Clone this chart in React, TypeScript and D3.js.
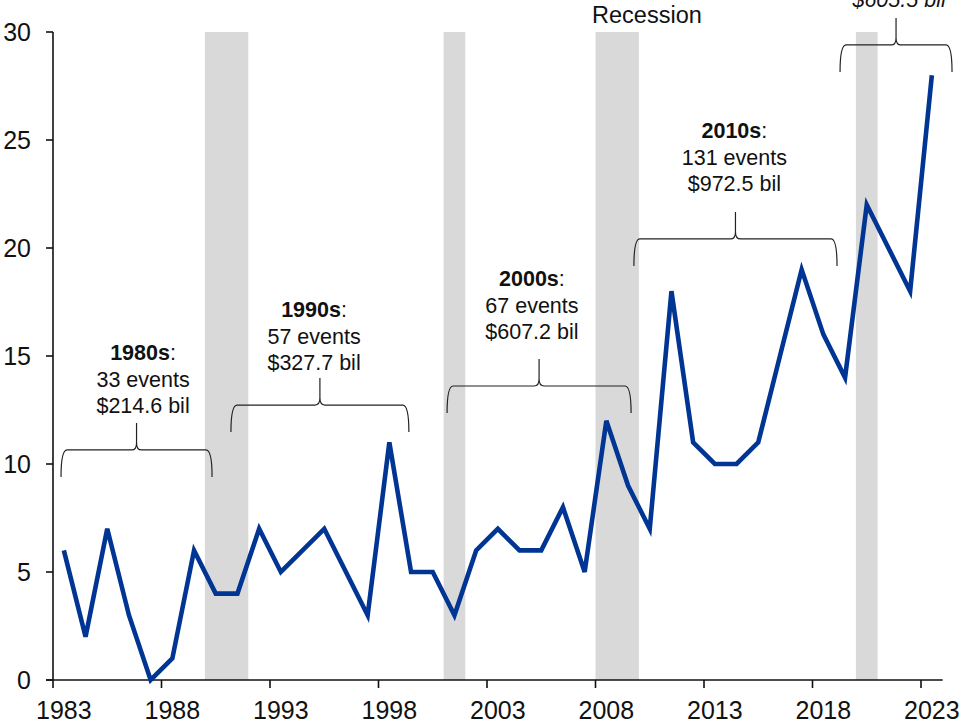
import React from "react";
import * as d3 from "d3";

// ---- data ----
const startYear = 1983;
const eventCounts = [
  6, 2, 7, 3, 0, 1, 6,
  4, 4, 7, 5, 6, 7, 5, 3, 11, 5,
  5, 3, 6, 7, 6, 6, 8, 5, 12, 9,
  7, 18, 11, 10, 10, 11, 15, 19, 16, 14,
  22, 20, 18, 28,
];
const xTickYears = [1983, 1988, 1993, 1998, 2003, 2008, 2013, 2018, 2023];
const yTicks = [0, 5, 10, 15, 20, 25, 30];
const recessionStart = [1990, 2001, 2008, 2020];
const recessionEnd = [1992, 2002, 2010, 2021];

const braceStart = [1983.37, 1991.2, 2001.16, 2009.77, 2019.27];
const braceEnd = [1990.33, 1999.4, 2009.64, 2019.13, 2024.43];
const braceLevel = [10.65, 12.73, 13.61, 20.42, 29.4];

const decadeNames = ["1980s", "1990s", "2000s", "2010s"];
const decadeEvents = ["33 events", "57 events", "67 events", "131 events"];
const decadeCost = ["$214.6 bil", "$327.7 bil", "$607.2 bil", "$972.5 bil"];
const labelX = [1987.15, 1995.03, 2005.07, 2014.4];
const labelY = [14.81, 16.8, 18.24, 25.09];

const partialCost = "$605.5 bil";
const partialX = 2021.99;
const partialY = 31.16;

const recessionLabel = "Recession";
const recessionLabelX = 2010.37;
const recessionLabelY = 30.42;

// ---- layout ----
const W = 962;
const H = 723;
const FONT = "'Liberation Sans', Arial, Helvetica, sans-serif";

export default function App() {
  const x = d3.scaleLinear().domain([1983, 2024]).range([53, 942.7]);
  const y = d3.scaleLinear().domain([0, 30]).range([680, 32]);

  const points = eventCounts.map((v, i) => [startYear + i + 0.5, v] as [number, number]);
  const line = d3
    .line<[number, number]>()
    .x((d) => x(d[0]))
    .y((d) => y(d[1]));

  const bracePath = (x1: number, x2: number, yH: number) => {
    const drop = 27;
    const rise = 27;
    const xm = (x1 + x2) / 2;
    const r = 6;
    const c = 7;
    return [
      `M${x1},${yH + drop}`,
      `Q${x1},${yH} ${x1 + r},${yH}`,
      `L${xm - 5},${yH}`,
      `Q${xm},${yH} ${xm},${yH - c}`,
      `L${xm},${yH - rise}`,
      `M${xm},${yH - c}`,
      `Q${xm},${yH} ${xm + 5},${yH}`,
      `L${x2 - r},${yH}`,
      `Q${x2},${yH} ${x2},${yH + drop}`,
    ].join(" ");
  };

  const lineGap = 26.5;

  return (
    <svg
      width={W}
      height={H}
      viewBox={`0 0 ${W} ${H}`}
      style={{ position: "absolute", left: 0, top: 0, background: "#fff" }}
      fontFamily={FONT}
    >
      {/* recession shading */}
      {recessionStart.map((s, i) => (
        <rect
          key={"rec" + i}
          x={x(s)}
          y={y(30)}
          width={x(recessionEnd[i]) - x(s)}
          height={y(0) - y(30)}
          fill="#d9d9d9"
        />
      ))}

      {/* axes */}
      <line x1={x(1983)} x2={x(1983)} y1={y(30)} y2={y(0)} stroke="#111" strokeWidth={1.6} />
      <line x1={46} x2={x(2024)} y1={y(0)} y2={y(0)} stroke="#111" strokeWidth={1.6} />
      {yTicks.map((t) => (
        <g key={"yt" + t}>
          <line x1={46} x2={x(1983)} y1={y(t)} y2={y(t)} stroke="#111" strokeWidth={1.6} />
          <text x={31} y={y(t)} dy="0.36em" textAnchor="end" fontSize={25} fill="#111">
            {t}
          </text>
        </g>
      ))}
      {xTickYears.map((t) => (
        <g key={"xt" + t}>
          <line x1={x(t)} x2={x(t)} y1={y(0)} y2={y(0) + 8} stroke="#111" strokeWidth={1.6} />
          <text x={x(t + 0.5)} y={719} textAnchor="middle" fontSize={25} fill="#111">
            {t}
          </text>
        </g>
      ))}

      {/* data line */}
      <path
        d={line(points) || ""}
        fill="none"
        stroke="#003594"
        strokeWidth={4.6}
        strokeLinejoin="miter"
        strokeLinecap="butt"
      />

      {/* braces */}
      {braceStart.map((s, i) => (
        <path
          key={"br" + i}
          d={bracePath(x(s), x(braceEnd[i]), y(braceLevel[i]))}
          fill="none"
          stroke="#222"
          strokeWidth={1.2}
        />
      ))}

      {/* decade labels */}
      {decadeNames.map((n, i) => {
        const cx = x(labelX[i]);
        const by = y(labelY[i]);
        return (
          <text key={"lab" + i} textAnchor="middle" fontSize={21.5} fill="#111">
            <tspan x={cx} y={by}>
              <tspan fontWeight="bold">{n}</tspan>:
            </tspan>
            <tspan x={cx} y={by + lineGap}>
              {decadeEvents[i]}
            </tspan>
            <tspan x={cx} y={by + 2 * lineGap}>
              {decadeCost[i]}
            </tspan>
          </text>
        );
      })}

      <text
        x={x(partialX)}
        y={y(partialY)}
        textAnchor="middle"
        fontSize={21.5}
        fontStyle="italic"
        fill="#111"
      >
        {partialCost}
      </text>

      <text
        x={x(recessionLabelX)}
        y={y(recessionLabelY)}
        textAnchor="middle"
        fontSize={23.5}
        fill="#111"
      >
        {recessionLabel}
      </text>
    </svg>
  );
}
